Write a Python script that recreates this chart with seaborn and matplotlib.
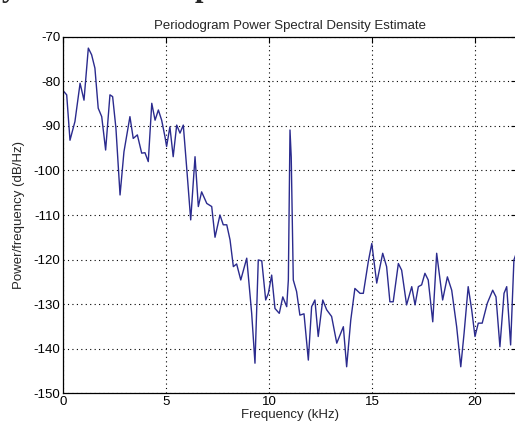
import matplotlib
matplotlib.use("Agg")
import matplotlib.pyplot as plt
import seaborn as sns
import pandas as pd

freq_khz = [0.05, 0.18, 0.34, 0.58, 0.83, 1.02, 1.23, 1.39, 1.55, 1.71, 1.88, 2.07,
            2.28, 2.41, 2.57, 2.77, 2.96, 3.25, 3.41, 3.61, 3.82, 3.98, 4.14, 4.31,
            4.47, 4.63, 4.79, 4.95, 5.03, 5.19, 5.35, 5.52, 5.68, 5.84, 6.00, 6.20,
            6.41, 6.57, 6.73, 6.98, 7.22, 7.38, 7.62, 7.78, 7.95, 8.11, 8.27, 8.43,
            8.63, 8.92, 9.16, 9.32, 9.48, 9.65, 9.84, 9.97, 10.13, 10.29, 10.50, 10.67,
            10.86, 10.94, 11.02, 11.08, 11.18, 11.34, 11.50, 11.70, 11.91, 12.07, 12.23,
            12.39, 12.61, 12.80, 13.04, 13.29, 13.61, 13.77, 13.97, 14.17, 14.42, 14.58,
            14.82, 14.99, 15.23, 15.52, 15.71, 15.87, 16.03, 16.28, 16.44, 16.68, 16.93,
            17.09, 17.25, 17.41, 17.57, 17.73, 17.95, 18.14, 18.43, 18.66, 18.87, 19.11,
            19.31, 19.47, 19.67, 19.84, 20.00, 20.16, 20.35, 20.60, 20.86, 21.02, 21.21,
            21.41, 21.54, 21.73, 21.89, 22.05]
psd_db = [-82.3, -83.0, -93.2, -89.0, -80.4, -84.2, -72.5, -74.0, -77.0, -86.0, -87.9, -95.4,
          -83.0, -83.4, -90.5, -105.5, -95.8, -87.9, -92.8, -92.0, -96.1, -96.0, -98.0, -84.9,
          -88.7, -86.4, -88.7, -92.4, -94.6, -90.2, -96.9, -89.8, -91.6, -89.8, -99.1, -111.1,
          -96.9, -108.1, -104.8, -107.4, -108.1, -115.0, -110.0, -112.2, -112.2, -115.6, -121.6, -121.0,
          -124.6, -119.7, -132.1, -143.3, -120.1, -120.3, -129.1, -127.6, -123.5, -131.0, -132.1, -128.4,
          -130.6, -124.6, -90.9, -97.0, -124.6, -127.2, -132.5, -132.2, -142.6, -130.6, -129.1,
          -137.3, -129.1, -131.3, -132.8, -138.8, -135.1, -144.1, -133.6, -126.5, -127.6, -127.6,
          -120.5, -116.4, -125.3, -118.6, -121.6, -129.5, -129.5, -120.9, -122.4, -130.2, -126.1,
          -130.2, -126.1, -125.7, -123.1, -124.6, -134.0, -118.6, -129.1, -123.9, -126.9, -135.1,
          -144.1, -136.6, -126.1, -131.3, -137.3, -134.3, -134.3, -129.8, -126.9, -128.4, -139.6,
          -127.6, -126.1, -139.2, -120.1, -118.0]

x_ticks = [0, 5, 10, 15, 20]
y_ticks = [-150, -140, -130, -120, -110, -100, -90, -80, -70]

title = "Periodogram Power Spectral Density Estimate"
x_label = "Frequency (kHz)"
y_label = "Power/frequency (dB/Hz)"

sns.set_theme(style="white")
plt.rcParams["font.family"] = ["Liberation Sans", "DejaVu Sans"]

df = pd.DataFrame({"f": freq_khz, "p": psd_db})

fig = plt.figure(figsize=(5.15, 4.30), dpi=100)
fig.patch.set_facecolor("white")
ax = fig.add_axes([0.1223, 0.086, 0.882, 0.828])

sns.lineplot(data=df, x="f", y="p", ax=ax, color="#2b2b8e", linewidth=1.0,
             sort=False, estimator=None)

ax.set_xlim(0, 22.05)
ax.set_ylim(-150, -70)
ax.set_xticks(x_ticks)
ax.set_yticks(y_ticks)
ax.set_xticklabels([str(t) for t in x_ticks])
ax.set_yticklabels([str(t) for t in y_ticks])
ax.grid(True, linestyle=(0, (1, 3)), color="black", linewidth=0.8)
ax.tick_params(direction="in", top=True, right=True, length=4, width=0.8,
               labelsize=9.5, colors="black", pad=2)
for s in ax.spines.values():
    s.set_color("black")
    s.set_linewidth(0.9)

ax.set_title(title, fontsize=9.5, pad=6)
ax.set_xlabel(x_label, fontsize=9.5, labelpad=1)
ax.set_ylabel(y_label, fontsize=9.5, labelpad=6)

# partially visible heading from the page above (only its descenders show, as in the reference)
fig.text(0.003, 1.010, "y", fontsize=22, fontweight="bold",
         family="Liberation Serif", va="baseline", ha="left")
fig.text(0.377, 1.010, "p", fontsize=22, fontweight="bold",
         family="Liberation Serif", va="baseline", ha="left")

fig.savefig("out.png", dpi=100, facecolor="white")
